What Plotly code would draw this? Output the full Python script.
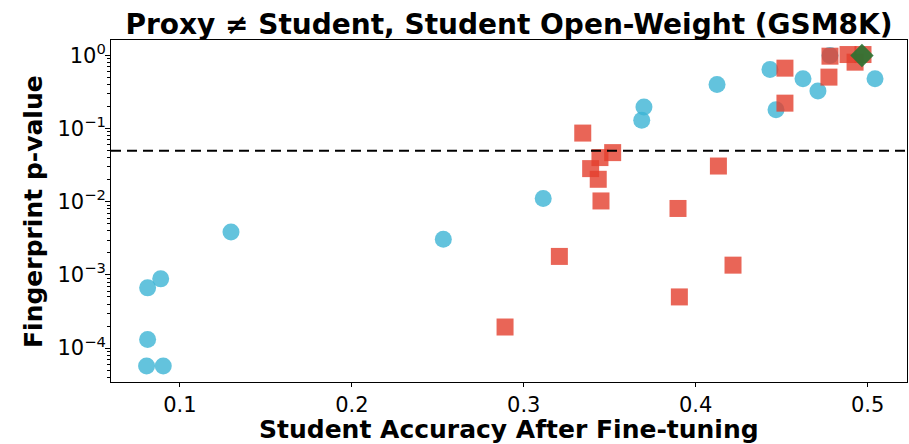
import plotly.graph_objects as go

# ---- data ----
blue_x = [0.0806, 0.0903, 0.0812, 0.0812, 0.0888, 0.1297, 0.2532, 0.3113, 0.3686,
          0.3699, 0.4124, 0.4432, 0.4467, 0.4624, 0.4711, 0.4781, 0.5043]
blue_y = [5.7e-5, 5.7e-5, 1.31e-4, 6.65e-4, 8.83e-4, 3.87e-3, 3.08e-3, 0.0111, 0.130,
          0.197, 0.402, 0.644, 0.181, 0.481, 0.326, 1.0, 0.481]

red_x = [0.2891, 0.3207, 0.3343, 0.3389, 0.3433, 0.3443, 0.3449, 0.3517, 0.3897,
         0.3905, 0.4132, 0.4217, 0.4519, 0.4519, 0.4775, 0.4781, 0.4886, 0.4927, 0.4973]
red_y = [1.94e-4, 1.79e-3, 0.0869, 0.0284, 0.0203, 0.0402, 0.01026, 0.0470, 0.0081,
         5.0e-4, 0.0308, 1.36e-3, 0.671, 0.223, 0.506, 0.978, 1.03, 0.81, 1.03]

green_x = [0.4967]
green_y = [1.0]

THRESHOLD = 0.05

x_tickvals = [0.1, 0.2, 0.3, 0.4, 0.5]
x_ticktext = ["0.1", "0.2", "0.3", "0.4", "0.5"]
y_tickvals = [1e-4, 1e-3, 1e-2, 1e-1, 1e0]
y_ticktext = ["10<sup>\u22124</sup>", "10<sup>\u22123</sup>", "10<sup>\u22122</sup>",
              "10<sup>\u22121</sup>", "10<sup>0</sup>"]

TITLE = "Proxy \u2260 Student, Student Open-Weight (GSM8K)"
XLABEL = "Student Accuracy After Fine-tuning"
YLABEL = "Fingerprint p-value"

FONT = "DejaVu Sans"

fig = go.Figure()
fig.add_trace(go.Scatter(
    x=blue_x, y=blue_y, mode="markers",
    marker=dict(symbol="circle", size=17, color="rgb(60,180,212)", opacity=0.8,
                line=dict(width=0)),
    showlegend=False))
fig.add_trace(go.Scatter(
    x=red_x, y=red_y, mode="markers",
    marker=dict(symbol="square", size=17, color="rgb(228,62,45)", opacity=0.8,
                line=dict(width=0)),
    showlegend=False))
fig.add_trace(go.Scatter(
    x=green_x, y=green_y, mode="markers",
    marker=dict(symbol="diamond", size=18, color="rgb(40,115,50)", opacity=0.9,
                line=dict(width=0)),
    showlegend=False))

fig.add_shape(type="line", xref="paper", yref="y", x0=0, x1=1,
              y0=THRESHOLD, y1=THRESHOLD,
              line=dict(color="black", width=2, dash="10px,6px"))

# axis titles as annotations for exact placement
fig.add_annotation(text=YLABEL, xref="paper", yref="paper", x=-0.098, y=0.5,
                   xanchor="center", yanchor="middle", textangle=-90, showarrow=False,
                   font=dict(family=FONT, size=25, weight="bold", color="black"))
fig.add_annotation(text=XLABEL, xref="paper", yref="paper", x=0.5, y=-0.139,
                   xanchor="center", yanchor="middle", showarrow=False,
                   font=dict(family=FONT, size=25, weight="bold", color="black"))

fig.update_layout(
    width=909, height=444,
    margin=dict(l=111, r=2, t=40, b=62, autoexpand=False),
    paper_bgcolor="white", plot_bgcolor="white",
    font=dict(family=FONT, color="black", size=20),
    title=dict(text=TITLE, x=0.5, xref="paper", xanchor="center",
               y=1 - 24 / 444, yref="container", yanchor="middle",
               font=dict(family=FONT, size=28, weight="bold", color="black")),
)

fig.update_xaxes(
    range=[0.0599, 0.5229], automargin=False,
    tickmode="array", tickvals=x_tickvals, ticktext=x_ticktext,
    ticks="outside", ticklen=4, tickwidth=1, tickcolor="black",
    tickfont=dict(family=FONT, size=21, color="black"),
    showline=True, linecolor="black", linewidth=1, mirror=True,
    showgrid=False, zeroline=False,
)

fig.update_yaxes(
    type="log", range=[-4.464, 0.2116], automargin=False,
    tickmode="array", tickvals=y_tickvals, ticktext=y_ticktext,
    ticks="outside", ticklen=5, tickwidth=1, tickcolor="black",
    tickfont=dict(family=FONT, size=21, color="black"),
    ticklabelstandoff=-5,
    minor=dict(ticks="outside", ticklen=3, tickwidth=0.8, tickcolor="black",
               dtick="D1", showgrid=False),
    showline=True, linecolor="black", linewidth=1, mirror=True,
    showgrid=False, zeroline=False,
)

fig.write_html(
    "out.html",
    config={"displayModeBar": False},
    post_script="document.body.style.margin='0';document.body.style.overflow='hidden';",
)
